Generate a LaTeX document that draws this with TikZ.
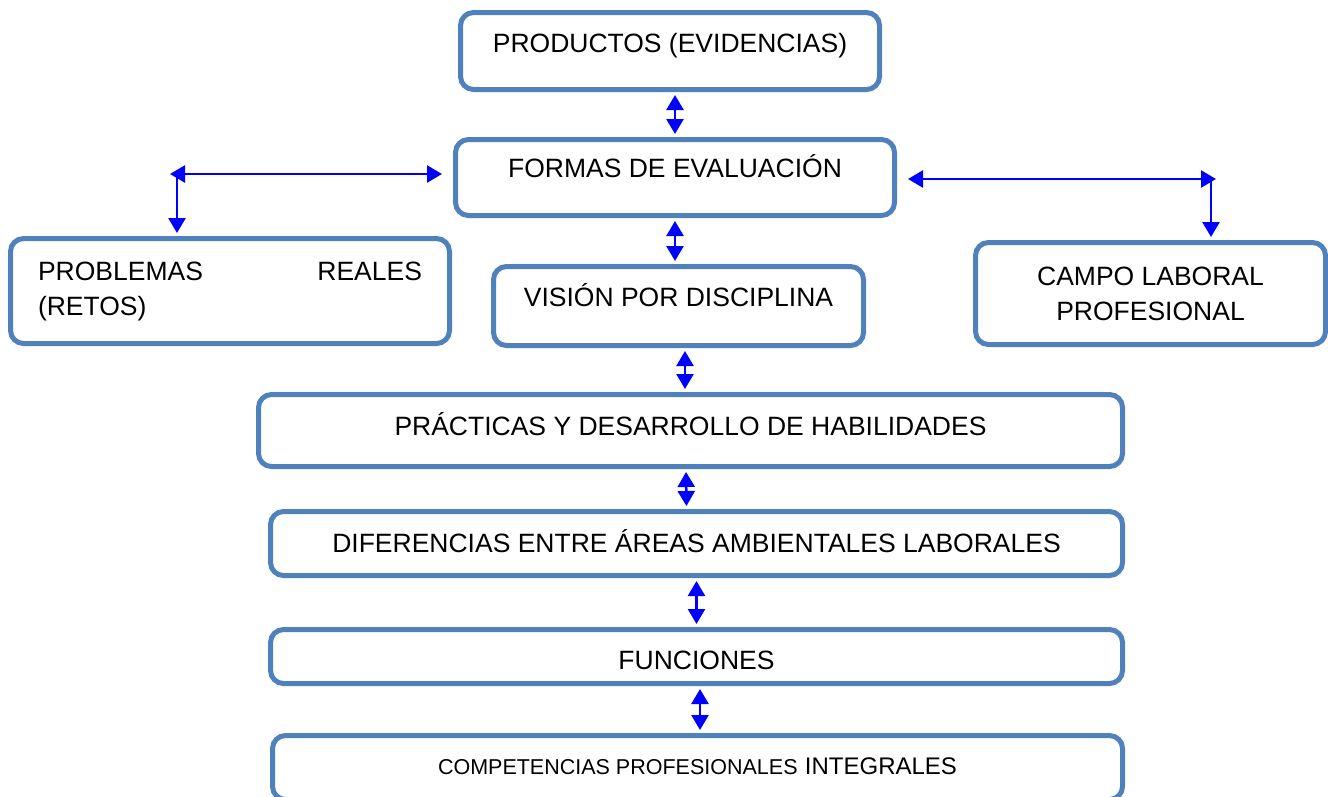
\documentclass[tikz,border=0pt]{standalone}
\usepackage{fontspec}
\setmainfont{Liberation Sans}
\usetikzlibrary{arrows.meta}
\definecolor{boxblue}{RGB}{79,129,189}

\begin{document}
\begin{tikzpicture}[x=1pt,y=-1pt]
        \tikzset{
          panel/.style={draw=boxblue, line width=5pt, rounded corners=13pt, fill=white, inner sep=0pt, font=\fontsize{26.5}{35}\selectfont},
          lift/.style={text height=26pt, text depth=#1},
          link/.style={blue, line width=2.5pt, {Triangle[length=15pt,width=17pt]}-{Triangle[length=15pt,width=17pt]}, shorten <=3pt, shorten >=3pt},
          drop/.style={blue, line width=2.5pt, -{Triangle[length=15pt,width=17pt]}, shorten >=3pt}
        }
        \useasboundingbox (0,0) rectangle (1328,796);

        \node[panel, lift=23pt, minimum width=419pt, minimum height=77pt] (prod) at (670,51) {PRODUCTOS (EVIDENCIAS)};
        \node[panel, lift=26pt, minimum width=439pt, minimum height=76pt] (formas) at (675,177.5) {FORMAS DE EVALUACIÓN};
        \node[panel, minimum width=439pt, minimum height=105pt, text width=384pt, align=left] (prob) at (230,291) {PROBLEMAS \hfill REALES\\(RETOS)};
        \node[panel, lift=25pt, minimum width=370pt, minimum height=79pt] (vision) at (678.5,306) {VISIÓN POR DISCIPLINA};
        \node[panel, minimum width=350pt, minimum height=102pt, align=center] (campo) at (1150.5,293.5) {CAMPO LABORAL\\PROFESIONAL};
        \node[panel, lift=16pt, minimum width=864pt, minimum height=72pt] (pract) at (690.5,430.5) {PRÁCTICAS Y DESARROLLO DE HABILIDADES};
        \node[panel, lift=8pt, minimum width=852pt, minimum height=64pt] (dif) at (696.5,543.5) {DIFERENCIAS ENTRE ÁREAS AMBIENTALES LABORALES};
        \node[panel, lift=0pt, minimum width=852pt, minimum height=54pt] (func) at (696.5,656.5) {FUNCIONES};
        \node[panel, lift=12pt, minimum width=850pt, minimum height=64pt] (comp) at (697.5,767.5) {{\fontsize{21.5}{26}\selectfont COMPETENCIAS PROFESIONALES} {\fontsize{24}{26}\selectfont INTEGRALES}};

        % central chain
        \draw[link] ([xshift=5pt]prod.south) -- (formas.north);
        \draw[link] (formas.south) -- ([xshift=-3.5pt]vision.north);
        \draw[link] ([xshift=6.5pt]vision.south) -- ([xshift=-5.5pt]pract.north);
        \draw[link] ([xshift=-4.5pt]pract.south) -- ([xshift=-10pt]dif.north);
        \draw[link] (dif.south) -- (func.north);
        \draw[link] ([xshift=3.5pt]func.south) -- ([xshift=2.5pt]comp.north);

        % side branches
        \coordinate (lend) at (170,174);
        \coordinate (ldrop) at (177,174);
        \draw[link, shorten <=0pt, shorten >=11pt] (lend) -- (formas.west |- lend);
        \draw[drop] (ldrop) -- (ldrop |- prob.north);

        \coordinate (rend) at (1216,179);
        \coordinate (rdrop) at (1211,179);
        \draw[link, shorten <=11pt, shorten >=0pt] (formas.east |- rend) -- (rend);
        \draw[drop] (rdrop) -- (rdrop |- campo.north);
      \end{tikzpicture}
\end{document}
